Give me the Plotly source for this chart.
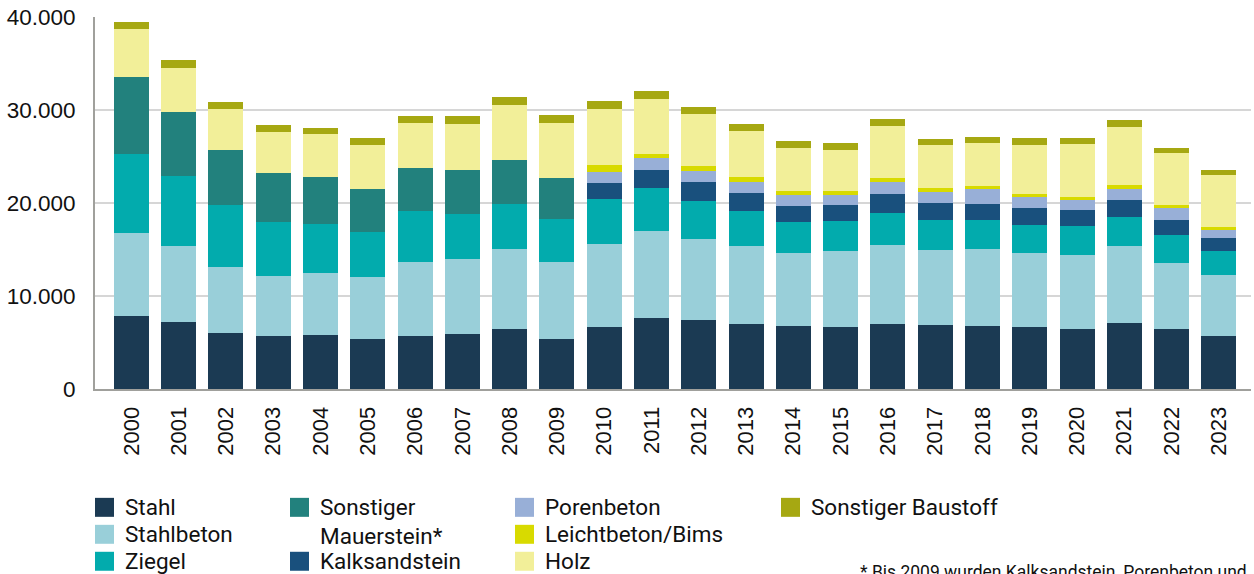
import plotly.graph_objects as go

# Jahre
years = [str(y) for y in range(2000, 2024)]

# Werte je Baustoff (gestapelt, von unten nach oben)
stahl = [7870, 7220, 6040, 5720, 5830, 5400, 5720, 5930, 6470, 5400, 6680, 7650,
         7440, 7010, 6790, 6680, 7010, 6900, 6790, 6680, 6470, 7110, 6470, 5720]
stahlbeton = [8900, 8160, 7080, 6440, 6650, 6650, 7940, 8050, 8580, 8260, 8910, 9340,
              8690, 8370, 7830, 8160, 8470, 8050, 8260, 7940, 7940, 8270, 7080, 6540]
ziegel = [8480, 7510, 6660, 5790, 5260, 4830, 5470, 4830, 4830, 4610, 4830, 4610,
          4070, 3750, 3330, 3220, 3440, 3220, 3120, 3010, 3110, 3110, 3010, 2580]
sonst_mauerstein = [8260, 6860, 5900, 5260, 5040, 4610, 4610, 4720, 4720, 4400] + [None] * 14
kalksandstein = [None] * 10 + [1720, 1930, 2040, 1930, 1720, 1720, 2040, 1820, 1710,
                               1820, 1720, 1820, 1610, 1400]
porenbeton = [None] * 10 + [1180, 1320, 1180, 1180, 1180, 1070, 1280, 1210, 1610,
                            1180, 1070, 1180, 1280, 850]
leichtbeton = [None] * 10 + [750, 400, 540, 540, 430, 430, 430, 400, 320,
                             330, 320, 430, 330, 320]
holz = [5150, 4730, 4400, 4400, 4610, 4720, 4830, 4940, 5900, 5900, 6010, 5900,
        5580, 4930, 4610, 4400, 5580, 4610, 4620, 5250, 5690, 6220, 5580, 5590]
sonst_baustoff = [750, 850, 750, 750, 650, 750, 750, 850, 860, 860, 850, 860,
                  750, 760, 750, 750, 750, 650, 640, 750, 640, 760, 530, 530]

series = [
    ("Stahl", stahl, "#1b3a53"),
    ("Stahlbeton", stahlbeton, "#99cfd9"),
    ("Ziegel", ziegel, "#02abad"),
    ("Sonstiger<br>Mauerstein*", sonst_mauerstein, "#22817d"),
    ("Kalksandstein", kalksandstein, "#19507d"),
    ("Porenbeton", porenbeton, "#98afd7"),
    ("Leichtbeton/Bims", leichtbeton, "#d8da00"),
    ("Holz", holz, "#f2ef99"),
    ("Sonstiger Baustoff", sonst_baustoff, "#a6a812"),
]

# Legendenraster (Spalte, Zeile) in derselben Reihenfolge wie series
legend_slots = [(0, 0), (0, 1), (0, 2), (1, 0), (1, 2), (2, 0), (2, 1), (2, 2), (3, 0)]
col_px = [95, 290, 515, 781]
row_px = [508, 535, 562]

W, H = 1254, 574
L, R, T, B = 95, 3, 17, 184.5
pw, ph = W - L - R, H - T - B


def px_x(x):
    return (x - L) / pw


def px_y(y):
    return (H - B - y) / ph


fig = go.Figure()
for name, vals, col in series:
    fig.add_trace(go.Bar(x=years, y=vals, name=name.replace("<br>", " "),
                         marker=dict(color=col, line=dict(width=0)),
                         showlegend=False))

shapes = []
annotations = []
for (name, vals, col), (c, r) in zip(series, legend_slots):
    x0 = col_px[c]
    yc = row_px[r]
    shapes.append(dict(type="rect", xref="paper", yref="paper",
                       x0=px_x(x0), x1=px_x(x0 + 19),
                       y0=px_y(yc + 9.5), y1=px_y(yc - 9.5),
                       fillcolor=col, line=dict(width=0)))
    annotations.append(dict(xref="paper", yref="paper", x=px_x(x0 + 28),
                            y=px_y(yc - 15), xanchor="left", yanchor="top",
                            text=name, showarrow=False, align="left",
                            font=dict(family="Roboto", size=22.5, color="#111111")))

annotations.append(dict(xref="paper", yref="paper", x=px_x(858), y=px_y(561),
                        xanchor="left", yanchor="top", showarrow=False,
                        text="* Bis 2009 wurden Kalksandstein, Porenbeton und",
                        font=dict(family="Roboto", size=17.5, color="#111111")))

fig.update_layout(
    barmode="stack",
    bargap=0.26,
    width=W, height=H,
    margin=dict(l=L, r=R, t=T, b=B),
    plot_bgcolor="white",
    paper_bgcolor="white",
    separators=",.",
    showlegend=False,
    shapes=shapes,
    annotations=annotations,
    font=dict(family="Liberation Sans, Arial", size=21, color="#111111"),
)
fig.update_xaxes(type="category", range=[-0.77, 23.68], tickangle=-90,
                 showline=True, linecolor="#a0a09c", linewidth=2,
                 ticks="", ticklabelstandoff=7,
                 tickfont=dict(family="Liberation Sans, Arial", size=22))
fig.update_yaxes(range=[0, 40000], dtick=10000, tickformat=",d",
                 showgrid=True, gridcolor="#d6d6d6", gridwidth=2,
                 showline=True, linecolor="#a0a09c", linewidth=2,
                 zeroline=False, ticks="", ticklabelstandoff=13,
                 tickfont=dict(family="Liberation Sans, Arial", size=22.5))

fig.write_html("out.html", config={"displayModeBar": False},
               post_script="document.body.style.margin='0';")
